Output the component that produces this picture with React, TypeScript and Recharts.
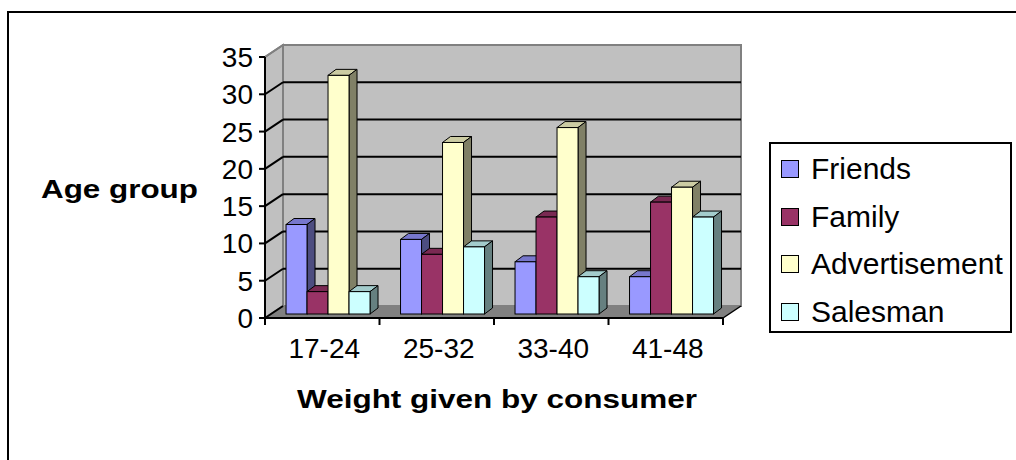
import React from 'react';
import { BarChart, Bar, XAxis, YAxis, CartesianGrid, Legend, ReferenceArea } from 'recharts';

const categories = ['17-24', '25-32', '33-40', '41-48'];
const friends = [12, 10, 7, 5];
const family = [3, 8, 13, 15];
const advertisement = [32, 23, 25, 17];
const salesman = [3, 9, 5, 13];
const yTicks = [0, 5, 10, 15, 20, 25, 30, 35];

const data = categories.map((group, i) => ({
  group,
  friends: friends[i],
  family: family[i],
  advertisement: advertisement[i],
  salesman: salesman[i],
}));

const series = [
  { key: 'friends', name: 'Friends', front: '#9999FF', top: '#7777CC', side: '#4D4D80' },
  { key: 'family', name: 'Family', front: '#993366', top: '#7A2952', side: '#4D1A33' },
  { key: 'advertisement', name: 'Advertisement', front: '#FFFFCC', top: '#CCCCA3', side: '#808066' },
  { key: 'salesman', name: 'Salesman', front: '#CCFFFF', top: '#A3CCCC', side: '#668080' },
];

const FONT = '"Liberation Sans", Arial, sans-serif';

// depth of the 3D box (walls) and of each column
const WALL_DX = 18;
const WALL_DY = 12;
const BAR_DX = 5;
const BAR_DY = 4;
const COL_DX = 8;
const COL_DY = 6;

type Series = (typeof series)[number];

const makeColumn = (s: Series) => (props: any) => {
  const { x, y, width, height } = props;
  if (width == null || height == null) return <g />;
  const fx = x + BAR_DX;
  const fy = y - BAR_DY;
  const r = fx + width;
  const b = fy + height;
  return (
    <g>
      <polygon
        points={`${fx},${fy} ${fx + COL_DX},${fy - COL_DY} ${r + COL_DX},${fy - COL_DY} ${r},${fy}`}
        fill={s.top}
        stroke="#000"
        strokeWidth={1}
      />
      <polygon
        points={`${r},${fy} ${r + COL_DX},${fy - COL_DY} ${r + COL_DX},${b - COL_DY} ${r},${b}`}
        fill={s.side}
        stroke="#000"
        strokeWidth={1}
      />
      <rect x={fx} y={fy} width={width} height={height} fill={s.front} stroke="#000" strokeWidth={1} />
    </g>
  );
};

// back wall, left wall and floor of the 3D box
const Walls = (props: any) => {
  const { x, y, width, height } = props;
  const b = y + height;
  const r = x + width;
  return (
    <g>
      <rect x={x + WALL_DX} y={y - WALL_DY} width={width} height={height} fill="#C0C0C0" stroke="#808080" strokeWidth={2} />
      <polygon
        points={`${x},${b} ${x},${y} ${x + WALL_DX},${y - WALL_DY} ${x + WALL_DX},${b - WALL_DY}`}
        fill="#C0C0C0"
        stroke="#808080"
        strokeWidth={2}
      />
      <polygon
        points={`${x},${b} ${r},${b} ${r + WALL_DX},${b - WALL_DY} ${x + WALL_DX},${b - WALL_DY}`}
        fill="#808080"
      />
      <line x1={r} y1={b} x2={r + WALL_DX} y2={b - WALL_DY} stroke="#000" strokeWidth={1.5} />
    </g>
  );
};

const GridLine = (props: any) => {
  const { x1, y1, x2 } = props;
  const top = typeof props.y === 'number' && Math.abs(y1 - props.y) < 0.5;
  const floor = typeof props.y === 'number' && typeof props.height === 'number' && Math.abs(y1 - (props.y + props.height)) < 0.5;
  const color = top ? '#808080' : '#000';
  return (
    <g>
      <line x1={x1} y1={y1} x2={x1 + WALL_DX} y2={y1 - WALL_DY} stroke={color} strokeWidth={2} />
      {!floor && (
        <line x1={x1 + WALL_DX} y1={y1 - WALL_DY} x2={x2 + WALL_DX} y2={y1 - WALL_DY} stroke={color} strokeWidth={2} />
      )}
    </g>
  );
};

const CategoryTick = (props: any) => {
  const { x, y, payload, index } = props;
  const half = payload?.offset ?? 0;
  return (
    <g>
      <line x1={x - half} y1={y} x2={x - half} y2={y + 7} stroke="#000" strokeWidth={2} />
      {index === categories.length - 1 && (
        <line x1={x + half} y1={y} x2={x + half} y2={y + 7} stroke="#000" strokeWidth={2} />
      )}
      <text x={x + 2} y={y + 40} textAnchor="middle" fontSize={28} fill="#000" fontFamily={FONT}>
        {payload.value}
      </text>
    </g>
  );
};

// legend keeps the series order (Friends, Family, Advertisement, Salesman)
const renderLegend = () => (
  <div
    style={{
      border: '2px solid #000',
      boxSizing: 'border-box',
      width: 243,
      height: 191,
      background: '#fff',
      paddingTop: 1,
      paddingLeft: 10,
      fontFamily: FONT,
    }}
  >
    {series.map((s) => (
      <div key={s.key} style={{ display: 'flex', alignItems: 'center', height: 47.7 }}>
        <span
          style={{
            display: 'inline-block',
            width: 18,
            height: 18,
            boxSizing: 'border-box',
            border: '1px solid #000',
            background: s.front,
          }}
        />
        <span style={{ marginLeft: 12, fontSize: 30, lineHeight: 1, color: '#000' }}>{s.name}</span>
      </div>
    ))}
  </div>
);

const App = () => {
  return (
    <div
      style={{
        position: 'absolute',
        left: 0,
        top: 0,
        width: 1016,
        height: 460,
        overflow: 'hidden',
        background: '#fff',
        fontFamily: FONT,
      }}
    >
      <div
        style={{
          position: 'absolute',
          left: 7,
          top: 11,
          width: 1100,
          height: 500,
          border: '2px solid #000',
        }}
      />
      <div style={{ position: 'absolute', left: 0, top: 0 }}>
        <BarChart
          width={1016}
          height={460}
          data={data}
          margin={{ top: 57, right: 293, bottom: 82, left: 205 }}
          barCategoryGap="14%"
          barGap={0}
        >
          <ReferenceArea y1={0} y2={35} shape={<Walls />} fillOpacity={1} ifOverflow="visible" zIndex={-200} />
          <CartesianGrid vertical={false} horizontal={(p: any) => <GridLine {...p} />} zIndex={-100} />
          <XAxis
            dataKey="group"
            interval={0}
            tickLine={false}
            tickSize={0}
            tickMargin={0}
            height={60}
            axisLine={{ stroke: '#000', strokeWidth: 2 }}
            tick={<CategoryTick />}
            label={{
              content: () => (
                <text
                  x={297}
                  y={408}
                  textLength={400}
                  lengthAdjust="spacingAndGlyphs"
                  fontSize={25}
                  fontWeight="bold"
                  fill="#000"
                  fontFamily={FONT}
                >
                  Weight given by consumer
                </text>
              ),
            }}
          />
          <YAxis
            domain={[0, 35]}
            ticks={yTicks}
            width={60}
            tickSize={6}
            tickMargin={6}
            axisLine={{ stroke: '#000', strokeWidth: 2 }}
            tickLine={{ stroke: '#000', strokeWidth: 2 }}
            tick={{ fill: '#000', fontSize: 28, fontFamily: FONT }}
            label={{
              content: () => (
                <text
                  x={41}
                  y={198}
                  textLength={157}
                  lengthAdjust="spacingAndGlyphs"
                  fontSize={25}
                  fontWeight="bold"
                  fill="#000"
                  fontFamily={FONT}
                >
                  Age group
                </text>
              ),
            }}
          />
          {series.map((s) => (
            <Bar
              key={s.key}
              dataKey={s.key}
              name={s.name}
              fill={s.front}
              shape={makeColumn(s)}
              isAnimationActive={false}
            />
          ))}
          <Legend
            layout="vertical"
            align="center"
            verticalAlign="middle"
            content={renderLegend}
            wrapperStyle={{ left: 769, top: 142, width: 243, height: 191 }}
          />
        </BarChart>
      </div>
    </div>
  );
};

export default App;
